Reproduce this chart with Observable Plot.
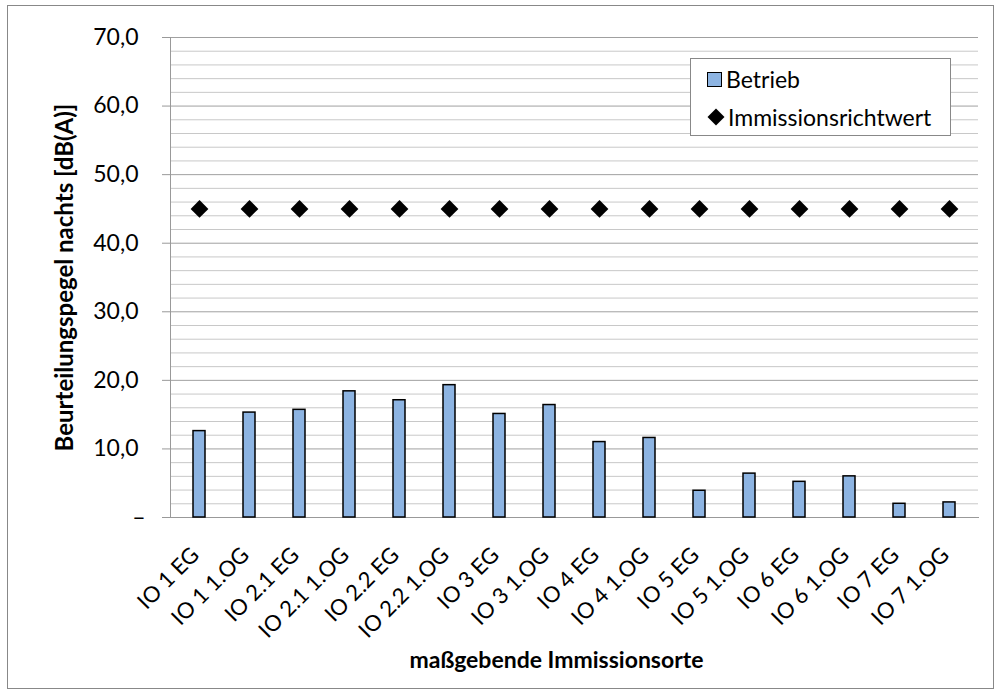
<!DOCTYPE html>
<html><head><meta charset="utf-8">
<script src="https://cdn.jsdelivr.net/npm/d3@7"></script>
<script src="https://cdn.jsdelivr.net/npm/@observablehq/plot@0.6"></script>
<style>
body{margin:0;background:#fff;font-family:Lato, sans-serif;}
#wrap{position:relative;width:1001px;height:695px;overflow:hidden;}
#border{position:absolute;left:7px;top:5px;width:985px;height:682px;border:1px solid #888;pointer-events:none;}
#legend{position:absolute;left:690px;top:58px;width:259px;height:76px;border:1px solid #888;background:#fff;font-size:23px;color:#000;}
.li{position:absolute;left:16px;display:flex;align-items:center;height:30px;}
.sw{width:13px;height:13px;background:#8DB4E2;border:1.5px solid #000;margin-right:4px;}
.dm{width:12px;height:12px;background:#000;transform:rotate(45deg);margin:0 6px 0 3px;}
</style></head><body>
<div id="wrap"><div id="chart"></div><div id="border"></div>
<div id="legend">
<div class="li" style="top:5px"><div class="sw"></div><span>Betrieb</span></div>
<div class="li" style="top:43px"><div class="dm"></div><span>Immissionsrichtwert</span></div>
</div></div>
<script>
const categories = ["IO 1 EG","IO 1 1.OG","IO 2.1 EG","IO 2.1 1.OG","IO 2.2 EG","IO 2.2 1.OG","IO 3 EG","IO 3 1.OG","IO 4 EG","IO 4 1.OG","IO 5 EG","IO 5 1.OG","IO 6 EG","IO 6 1.OG","IO 7 EG","IO 7 1.OG"];
const betrieb = [12.6,15.3,15.7,18.4,17.1,19.3,15.1,16.4,11.0,11.6,3.9,6.4,5.2,6.0,2.0,2.2];
const richtwert = [45,45,45,45,45,45,45,45,45,45,45,45,45,45,45,45];
const majorTicks = [0,10,20,30,40,50,60,70];
const minorTicks = d3.range(0,70.001,2).filter(v => v % 10 !== 0);
const yTitle = "Beurteilungspegel nachts [dB(A)]";
const xTitle = "maßgebende Immissionsorte";

const data = categories.map((c,i) => ({cat:c, betrieb:betrieb[i], richtwert:richtwert[i]}));
const fmt = d => d === 0 ? "" : d.toFixed(1).replace(".", ",");

const chart = Plot.plot({
  width:1001, height:695,
  marginLeft:170, marginRight:23, marginTop:37, marginBottom:178,
  style:{fontFamily:"Lato, sans-serif", fontSize:"23px", color:"#000", background:"transparent", overflow:"visible"},
  x:{domain:categories, paddingInner:0.76, paddingOuter:0.38, label:null},
  y:{domain:[0,70], label:null},
  marks:[
    Plot.ruleY(minorTicks, {stroke:"#c8c8c8", strokeWidth:1}),
    Plot.ruleY(majorTicks, {stroke:"#a0a0a0", strokeWidth:1}),
    Plot.frame({anchor:"left", stroke:"#999"}),
    Plot.frame({anchor:"bottom", stroke:"#999"}),
    Plot.barY(data, {x:"cat", y:"betrieb", fill:"#8DB4E2", stroke:"#000", strokeWidth:1.5}),
    Plot.dot(data, {x:"cat", y:"richtwert", symbol:"diamond2", r:8, fill:"#000", stroke:"none"}),
    Plot.axisY({ticks:majorTicks, tickSize:8, tickPadding:24, tickFormat:fmt, stroke:"#999", label:null, fontSize:23}),
    Plot.axisY({ticks:[0], tickSize:8, tickPadding:17, tickFormat:() => "–", stroke:"#999", label:null, fontSize:23}),
    Plot.axisX({tickRotate:-45, tickSize:0, tickPadding:34, dx:-4, label:null, fontSize:22}),
    Plot.text([yTitle], {frameAnchor:"left", rotate:-90, dx:-105, textAnchor:"middle", fontWeight:"bold", fontSize:24}),
    Plot.text([xTitle], {frameAnchor:"bottom", dy:150, dx:-18, fontWeight:"bold", fontSize:23})
  ]
});
document.getElementById("chart").appendChild(chart);
</script>
</body></html>
